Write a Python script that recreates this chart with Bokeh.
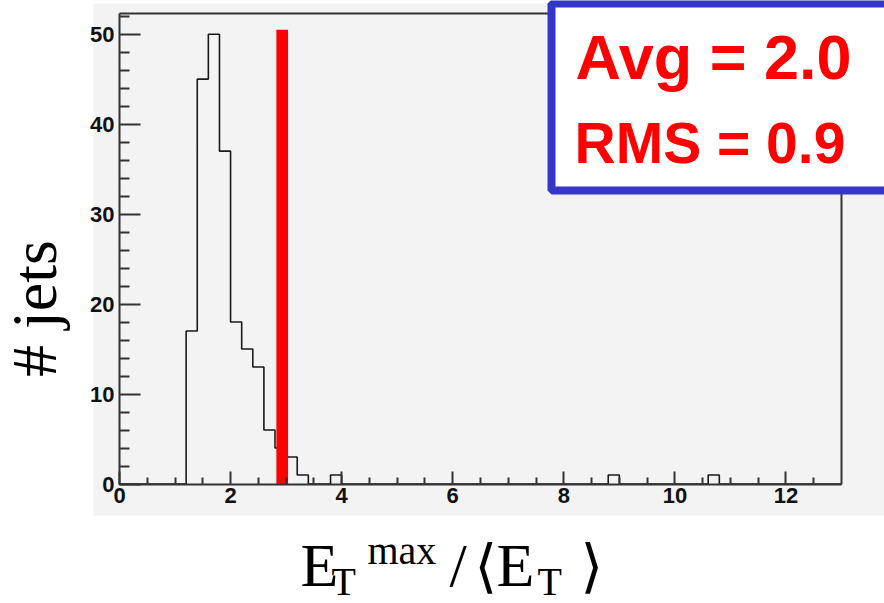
import numpy as np
from bokeh.plotting import figure
from bokeh.models import Range1d, FixedTicker, BoxAnnotation, Label, LinearAxis
from bokeh.embed import file_html
from bokeh.resources import INLINE

# ---------------- data ----------------
x_min, x_max = 0.0, 13.0
y_min, y_max = 0.0, 52.3
bin_width = 0.2
bin_low = [1.2, 1.4, 1.6, 1.8, 2.0, 2.2, 2.4, 2.6, 2.8, 3.0, 3.2, 3.8, 8.8, 10.6]
counts = [17, 45, 50, 37, 18, 15, 13, 6, 4, 3, 1, 1, 1, 1]
x_major = [0, 2, 4, 6, 8, 10, 12]
x_minor_step = 0.5
y_major = [0, 10, 20, 30, 40, 50]
y_minor_step = 2
marker_x = 2.93
marker_top = 50.5
marker_width = 0.21
stat_lines = ["Avg = 2.0", "RMS = 0.9"]
y_title = "# jets"

# ---------------- page layout (pixels) ----------------
W, H = 884, 603
FRAME_L, FRAME_R, FRAME_T, FRAME_B = 119, 841, 13, 483.5

sx = (FRAME_R - FRAME_L) / (x_max - x_min)
sy = (FRAME_B - FRAME_T) / (y_max - y_min)
x_range = Range1d(x_min - FRAME_L / sx, x_max + (W - FRAME_R) / sx)
y_range = Range1d(y_min - (H - FRAME_B) / sy, y_max + FRAME_T / sy)

# ---------------- histogram outline ----------------
n_bins = int(round((x_max - x_min) / bin_width))
full = np.zeros(n_bins)
for lo, c in zip(bin_low, counts):
    full[int(round((lo - x_min) / bin_width))] = c
edges = x_min + bin_width * np.arange(n_bins + 1)
xs = np.repeat(edges, 2)[1:-1]
ys = np.repeat(full, 2)

GRAY = "#f3f3f3"
AXC = "#333333"

p = figure(width=W, height=H, x_range=x_range, y_range=y_range,
           output_backend="svg", toolbar_location=None, min_border=0,
           background_fill_color="white", border_fill_color="white",
           outline_line_color=None)
p.xgrid.visible = False
p.ygrid.visible = False

# gray pasted-plot area
p.add_layout(BoxAnnotation(left=93, right=W + 10, top=3, bottom=515,
                           left_units="canvas", right_units="canvas",
                           top_units="canvas", bottom_units="canvas",
                           fill_color=GRAY, fill_alpha=1.0, line_alpha=0,
                           level="underlay"))

p.line(xs, ys, line_color="#1a1a1a", line_width=1.6)
p.vbar(x=[marker_x], width=marker_width, top=[marker_top], bottom=0,
       fill_color="#ff0000", line_color=None)

# axes
x_minor = [v for v in np.arange(x_min, x_max, x_minor_step) if v % 2 != 0]
y_minor = [v for v in range(0, int(y_max) + 1, y_minor_step) if v % 10 != 0]
p.xaxis.ticker = FixedTicker(ticks=x_major, minor_ticks=x_minor)
p.yaxis.ticker = FixedTicker(ticks=y_major, minor_ticks=y_minor)
p.xaxis.fixed_location = y_min
p.yaxis.fixed_location = x_min
p.xaxis.bounds = (x_min, x_max)
p.yaxis.bounds = (y_min, y_max)
for ax in (p.xaxis, p.yaxis):
    ax.axis_line_color = AXC
    ax.axis_line_width = 2
    ax.major_tick_line_color = AXC
    ax.minor_tick_line_color = AXC
    ax.major_tick_line_width = 2
    ax.minor_tick_line_width = 2
    ax.major_tick_out = 0
    ax.minor_tick_out = 0
    ax.major_label_text_font = "Liberation Sans"
    ax.major_label_text_font_style = "bold"
    ax.major_label_text_font_size = "22px"
    ax.major_label_text_color = "#111111"
p.xaxis.major_tick_in = 13
p.xaxis.minor_tick_in = 7
p.xaxis.major_label_standoff = 4
p.yaxis.major_tick_in = 21
p.yaxis.minor_tick_in = 10
p.yaxis.major_label_standoff = 5

# frame top / right lines
top_ax = LinearAxis(fixed_location=y_max, bounds=(x_min, x_max),
                    ticker=FixedTicker(ticks=[]), major_label_text_alpha=0,
                    axis_line_color=AXC, axis_line_width=2)
right_ax = LinearAxis(fixed_location=x_max, bounds=(y_min, y_max),
                      ticker=FixedTicker(ticks=[]), major_label_text_alpha=0,
                      axis_line_color=AXC, axis_line_width=2)
p.add_layout(top_ax, "above")
p.add_layout(right_ax, "right")


def mid_y(baseline, size, serif):
    # Label is centred vertically; convert an alphabetic baseline to centre
    return baseline - (0.3375 if serif else 0.3465) * size


# y title
p.add_layout(Label(x=34, y=308, x_units="canvas", y_units="canvas",
                   text=y_title, angle=np.pi / 2, text_align="center",
                   text_baseline="middle", text_font="Liberation Serif",
                   text_font_size="64px", text_color="black"))

# x title
BIG, SMALL = 62, 40
b_big, b_sub, b_sup = 585, 594, 563
parts = [("E", 300, b_big, BIG, "Liberation Serif"),
         ("T", 331, b_sub, SMALL, "Liberation Serif"),
         ("max", 367, b_sup, SMALL, "Liberation Serif"),
         ("/", 449, b_big, BIG, "Liberation Serif"),
         ("\u27e8", 474, b_big, 58, "DejaVu Sans"),
         ("E", 496, b_big, BIG, "Liberation Serif"),
         ("T", 537, b_sub, SMALL, "Liberation Serif"),
         ("\u27e9", 580, b_big, 58, "DejaVu Sans")]
for txt, x, b, fs, fnt in parts:
    p.add_layout(Label(x=x, y=mid_y(b, fs, True), x_units="canvas", y_units="canvas",
                       text=txt, text_align="left", text_baseline="middle",
                       text_font=fnt, text_font_size=f"{fs}px",
                       text_color="black"))

# statistics box
p.add_layout(BoxAnnotation(left=551, right=W + 20, top=3, bottom=190,
                           left_units="canvas", right_units="canvas",
                           top_units="canvas", bottom_units="canvas",
                           fill_color="white", fill_alpha=1.0,
                           line_color="#3535c8", line_width=8, line_alpha=1.0))
for txt, x, b, fs in [(stat_lines[0], 575, 78, 63), (stat_lines[1], 574, 162, 57)]:
    p.add_layout(Label(x=x, y=mid_y(b, fs, False), x_units="canvas", y_units="canvas",
                       text=txt, text_align="left", text_baseline="middle",
                       text_font="Liberation Sans", text_font_style="bold",
                       text_font_size=f"{fs}px", text_color="#ff0000"))

open("out.html", "w").write(file_html(p, INLINE))
